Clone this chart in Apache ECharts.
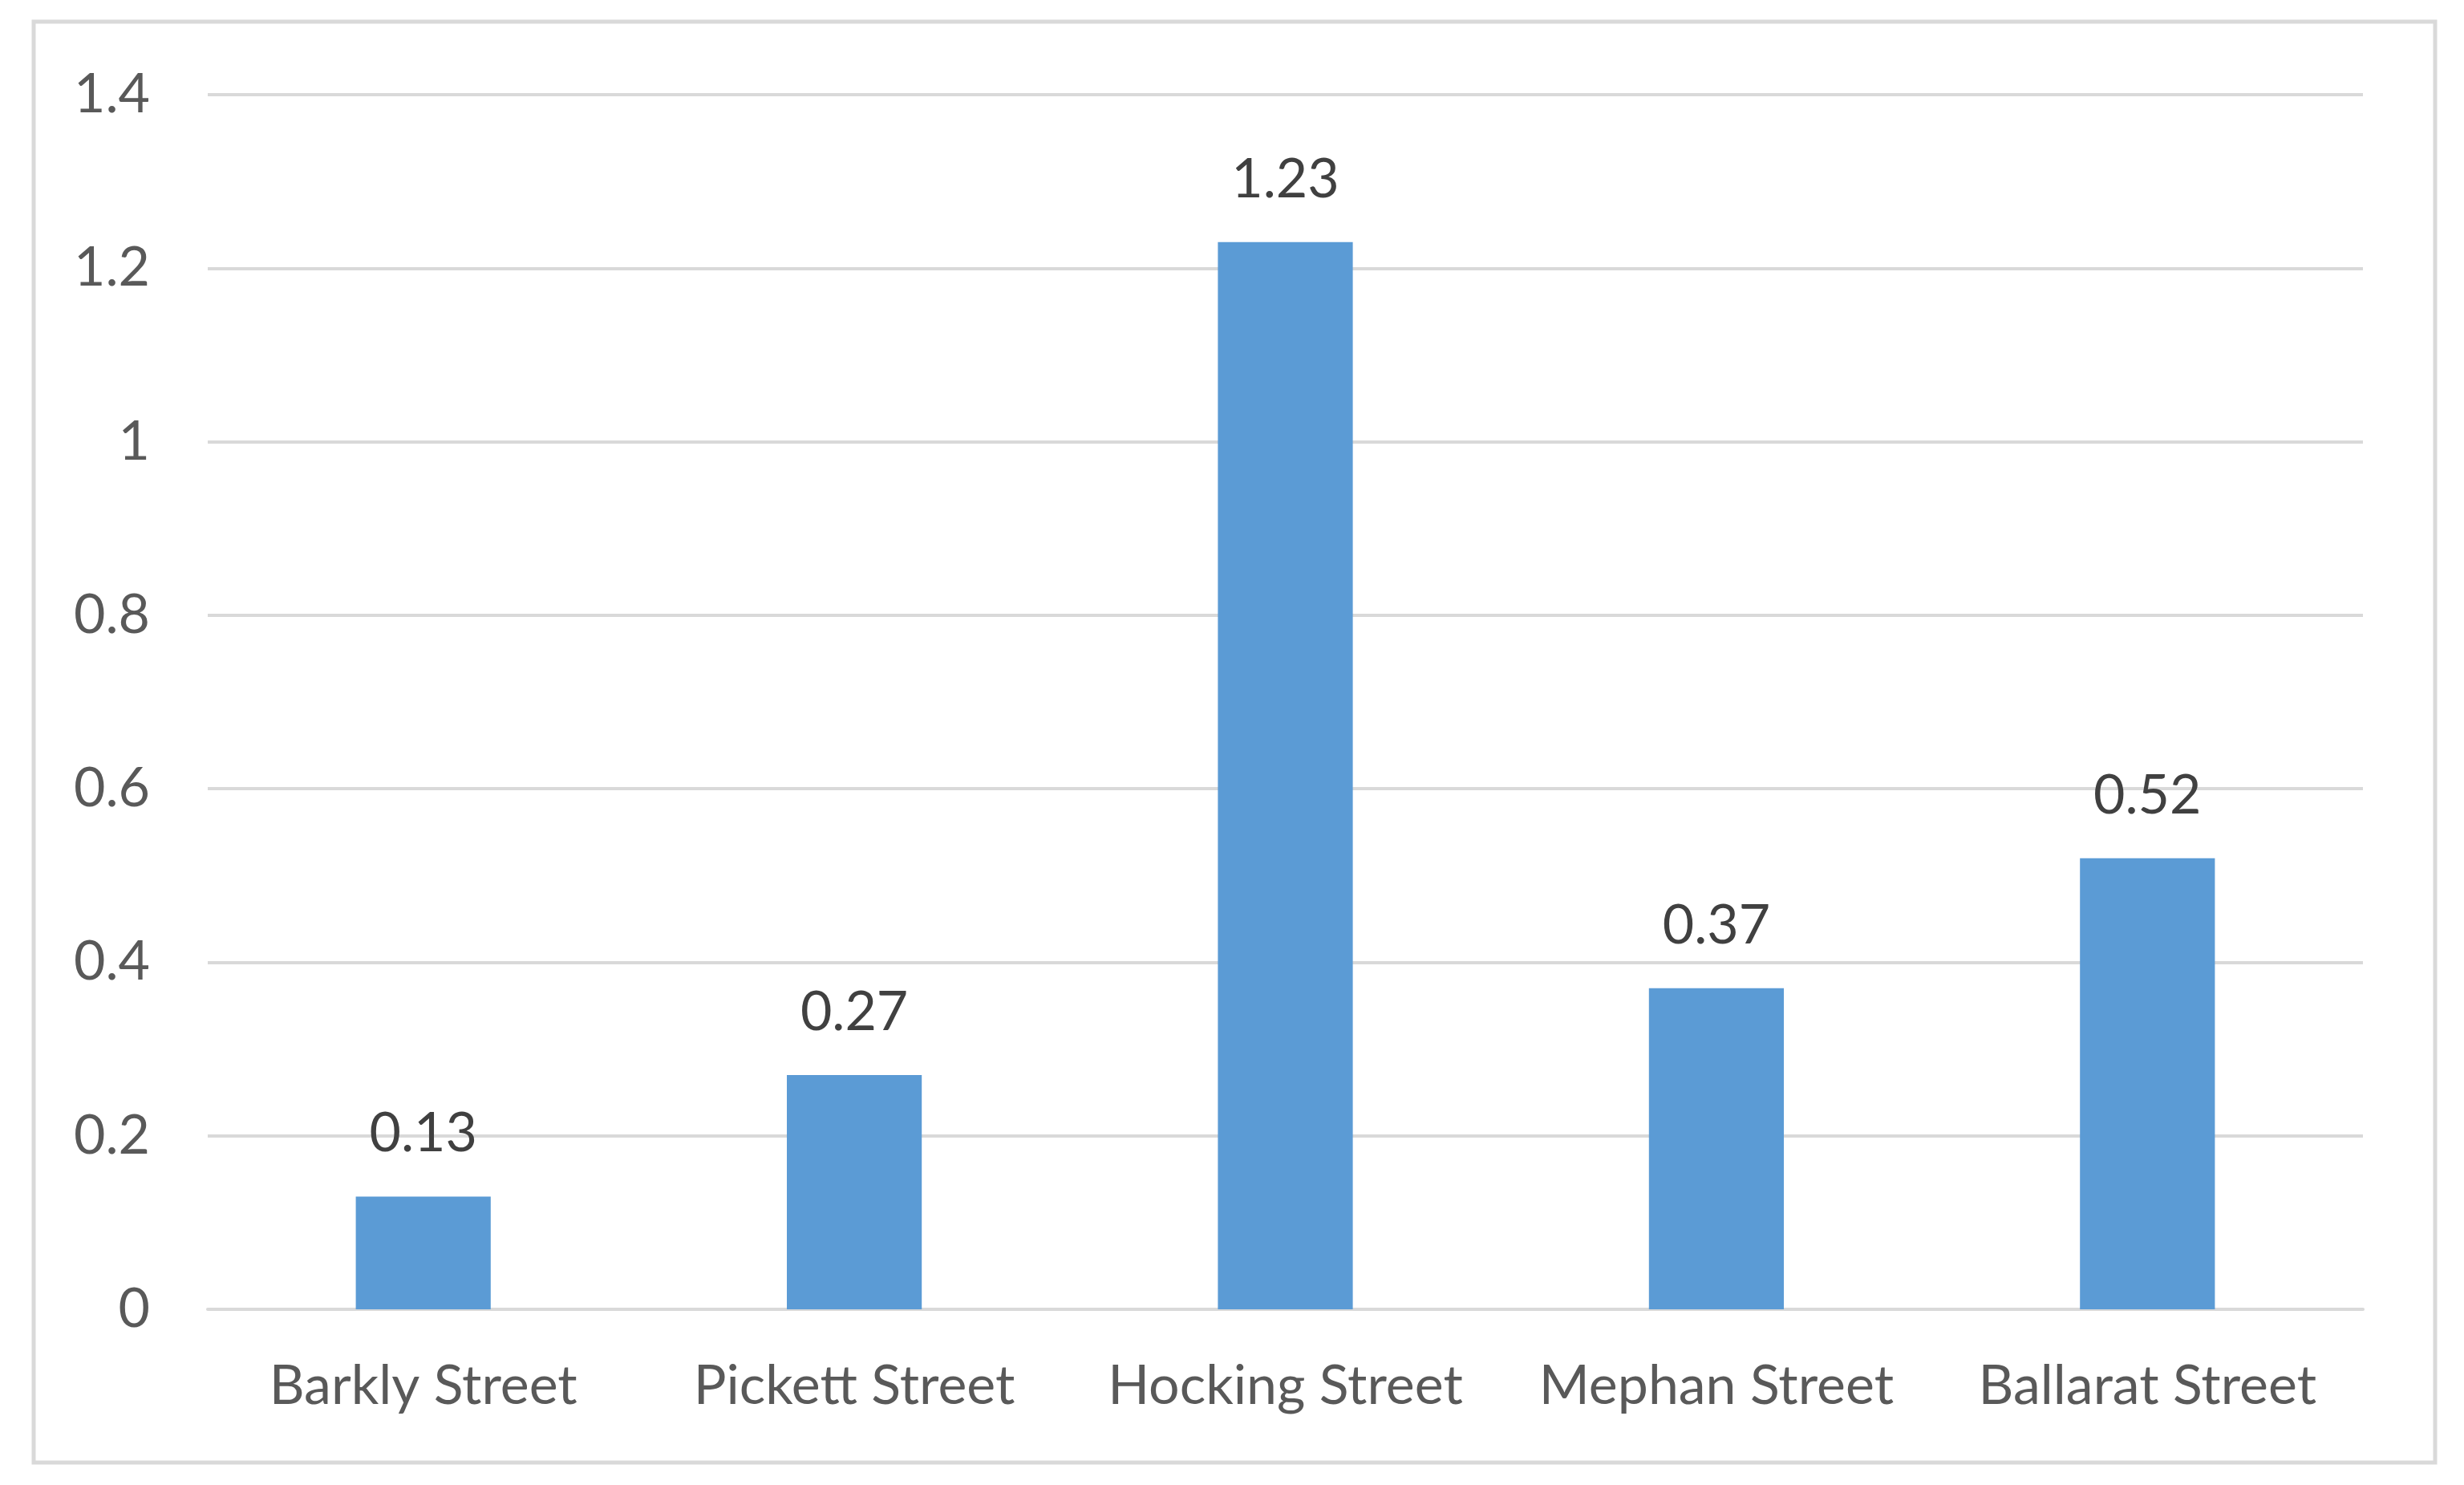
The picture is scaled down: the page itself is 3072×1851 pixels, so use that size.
<!DOCTYPE html>
<html>
<head>
<meta charset="utf-8">
<title>Street chart</title>
<script src="https://cdn.jsdelivr.net/npm/echarts@6/dist/echarts.min.js"></script>
<style>
  html, body { margin: 0; padding: 0; background: #fff; }
  #content { width: 3072px; height: 1851px; }
</style>
</head>
<body>
<div id="content"></div>
<script>
// data
var streets = ["Barkly Street", "Pickett Street", "Hocking Street", "Mephan Street", "Ballarat Street"];
var values = [0.13, 0.27, 1.23, 0.37, 0.52];
var yTicks = [0, 0.2, 0.4, 0.6, 0.8, 1, 1.2, 1.4];

var textColor = "#595959";
var gridColor = "#d9d9d9";
var barColor = "#5b9bd5";
var fontName = "Lato";

var myChart = echarts.init(document.getElementById("content"));

myChart.setOption({
    backgroundColor: "#fff",
    animation: false,
    // outer frame of the chart area
    graphic: [{
        type: "rect",
        shape: { x: 42, y: 27, width: 2994, height: 1796 },
        style: { fill: null, stroke: gridColor, lineWidth: 5 },
        silent: true
    }],
    grid: {
        left: 259,
        right: 3072 - 2946,
        top: 118,
        bottom: 1851 - 1632,
        containLabel: false
    },
    xAxis: {
        type: "category",
        data: streets,
        axisLine: { show: true, lineStyle: { color: gridColor, width: 4 } },
        axisTick: { show: false },
        axisLabel: {
            interval: 0,
            hideOverlap: false,
            color: textColor,
            fontFamily: fontName,
            fontSize: 68,
            margin: 62
        }
    },
    yAxis: {
        type: "value",
        min: yTicks[0],
        max: yTicks[yTicks.length - 1],
        interval: 0.2,
        axisLine: { show: false },
        axisTick: { show: false },
        splitLine: { lineStyle: { color: gridColor, width: 4 } },
        axisLabel: {
            color: textColor,
            fontFamily: fontName,
            fontSize: 68,
            margin: 72
        }
    },
    series: [{
        type: "bar",
        data: values,
        barWidth: "31.3%",
        itemStyle: { color: barColor },
        label: {
            show: true,
            position: "top",
            distance: 44,
            color: "#404040",
            fontFamily: fontName,
            fontSize: 68
        }
    }]
});
</script>
</body>
</html>
